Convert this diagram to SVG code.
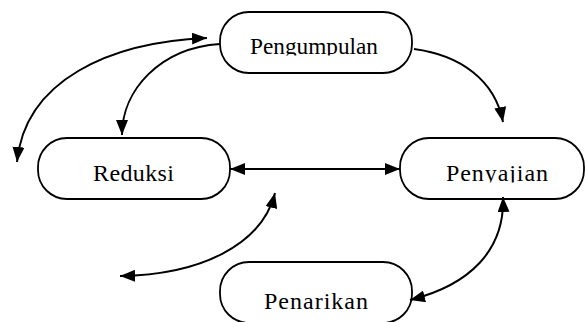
<svg xmlns="http://www.w3.org/2000/svg" width="585" height="322" viewBox="0 0 585 322">
<style>
.box{fill:#fff;stroke:#000;stroke-width:1.8}
.lbl{font-family:"Liberation Serif","Times New Roman",serif;font-size:24px;fill:#000}
.con{fill:none;stroke:#000;stroke-width:2}
</style>
<defs>
<marker id="ah" viewBox="0 0 15 12" refX="15" refY="6" markerWidth="15" markerHeight="12" markerUnits="userSpaceOnUse" orient="auto-start-reverse">
<path d="M0,0 L15,6 L0,12 z" fill="#000"/>
</marker>
<clipPath id="c1"><rect x="0" y="0" width="585" height="55.5"/></clipPath>
<clipPath id="c2"><rect x="0" y="0" width="585" height="182.5"/></clipPath>
<clipPath id="c3"><rect x="0" y="0" width="585" height="310"/></clipPath>
</defs>
<rect width="585" height="322" fill="#fff"/>
<g id="node-pengumpulan">
<rect class="box" x="220" y="12" width="192" height="61" rx="29"/>
<text class="lbl" x="250" y="54" textLength="128" lengthAdjust="spacingAndGlyphs" clip-path="url(#c1)">Pengumpulan</text>
</g>
<g id="node-reduksi">
<rect class="box" x="38" y="138" width="192" height="61" rx="29"/>
<text class="lbl" x="93" y="181" textLength="81" lengthAdjust="spacing" clip-path="url(#c2)">Reduksi</text>
</g>
<g id="node-penyajian">
<rect class="box" x="400" y="138" width="184" height="61" rx="29"/>
<text class="lbl" x="446" y="181" textLength="102" lengthAdjust="spacing" clip-path="url(#c2)">Penyajian</text>
</g>
<g id="node-penarikan">
<rect class="box" x="220" y="262" width="192" height="61" rx="29"/>
<text class="lbl" x="264" y="308.5" textLength="104" lengthAdjust="spacing" clip-path="url(#c3)">Penarikan</text>
</g>
<g id="connectors">
<path class="con" d="M220,44 C160,48 122,90 122,135" marker-end="url(#ah)"/>
<path class="con" d="M17,162 C25,80 110,42 207,38" marker-start="url(#ah)" marker-end="url(#ah)"/>
<path class="con" d="M414,49 C460,55 495,80 503,122" marker-end="url(#ah)"/>
<path class="con" d="M230,169 L400,169" marker-start="url(#ah)" marker-end="url(#ah)"/>
<path class="con" d="M275,193 C262,245 200,275 120,276" marker-start="url(#ah)" marker-end="url(#ah)"/>
<path class="con" d="M503,197 C505,250 470,285 410,300" marker-start="url(#ah)" marker-end="url(#ah)"/>
</g>
</svg>
